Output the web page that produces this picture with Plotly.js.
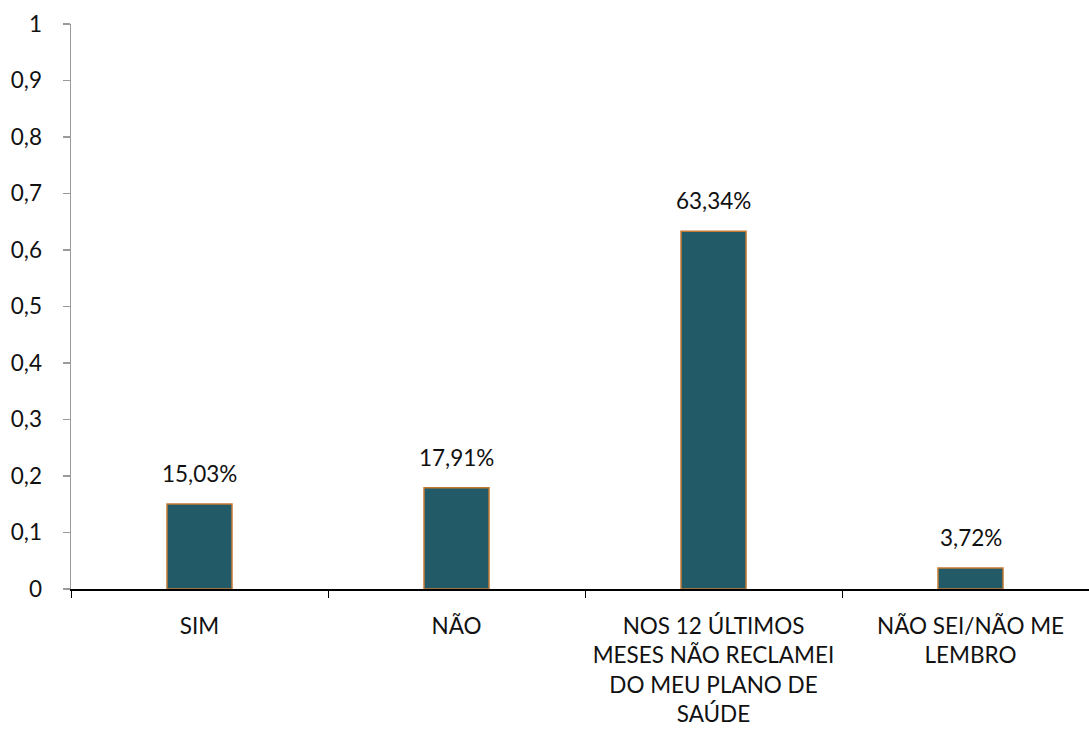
<!DOCTYPE html>
<html>
<head>
<meta charset="utf-8">
<script src="https://cdn.plot.ly/plotly-3.0.1.min.js"></script>
<style>html,body{margin:0;padding:0;background:#fff;}#chart{width:1089px;height:729px;}</style>
</head>
<body>
<div id="chart"></div>
<script>
const categories = ["SIM", "NÃO", "NOS 12 ÚLTIMOS<br>MESES NÃO RECLAMEI<br>DO MEU PLANO DE<br>SAÚDE", "NÃO SEI/NÃO ME<br>LEMBRO"];
const values = [0.1503, 0.1791, 0.6334, 0.0372];
const yTicks = [0, 0.1, 0.2, 0.3, 0.4, 0.5, 0.6, 0.7, 0.8, 0.9, 1];

const labels = values.map(v => (v * 100).toFixed(2).replace('.', ',') + '%');
const FONT = 'Lato, "Open Sans", sans-serif';
const FS = 22.5;

const trace = {
  type: 'bar',
  x: categories,
  y: values,
  width: 0.253,
  marker: {color: '#235A67', line: {color: '#C47A35', width: 1.5}},
  hoverinfo: 'skip'
};

const annotations = categories.map((c, i) => ({
  x: c, y: values[i], text: labels[i], showarrow: false,
  xref: 'x', yref: 'y', yanchor: 'bottom', yshift: 15,
  font: {family: FONT, size: FS, color: '#111'}
}));

const layout = {
  width: 1089, height: 729,
  margin: {l: 71, r: 0, t: 24, b: 140},
  paper_bgcolor: '#fff', plot_bgcolor: '#fff',
  separators: ',.',
  showlegend: false,
  font: {family: FONT, size: FS, color: '#111'},
  xaxis: {
    type: 'category',
    range: [-0.5, 3.461],
    showline: true, linecolor: '#000', linewidth: 2,
    ticks: 'outside', tickson: 'boundaries', ticklen: 7, tickcolor: '#000', tickwidth: 1,
    showgrid: false, zeroline: false,
    ticklabelstandoff: 16,
    tickfont: {family: FONT, size: FS, color: '#111'}
  },
  yaxis: {
    range: [0, 1],
    tickvals: yTicks,
    showline: true, linecolor: '#9a9a9a', linewidth: 1.5,
    ticks: 'outside', ticklen: 7, tickcolor: '#9a9a9a', tickwidth: 1.5,
    showgrid: false, zeroline: false,
    ticklabelstandoff: 16,
    tickfont: {family: FONT, size: FS, color: '#111'}
  },
  annotations: annotations
};

Plotly.newPlot('chart', [trace], layout, {displayModeBar: false, staticPlot: true});
</script>
</body>
</html>
